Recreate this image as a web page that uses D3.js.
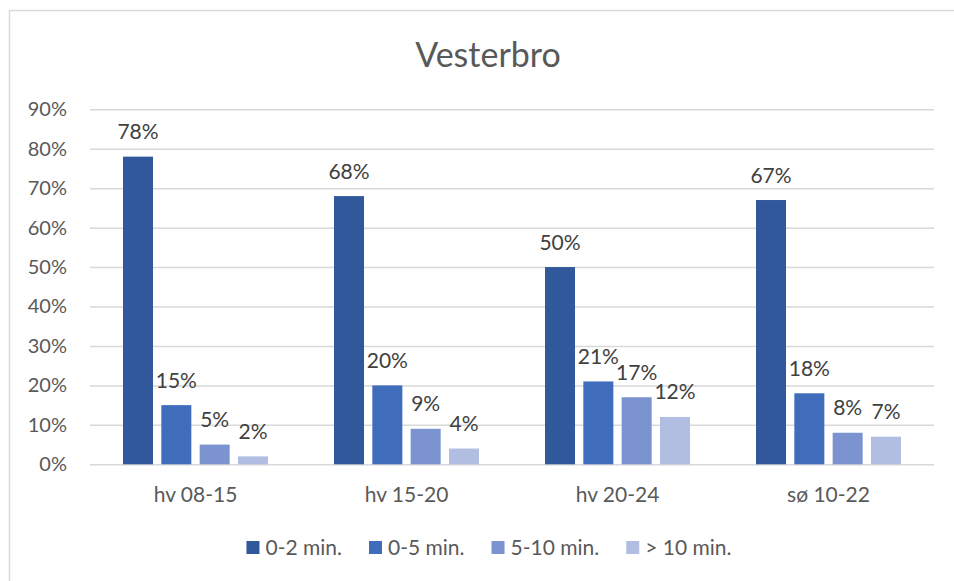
<!DOCTYPE html>
<html>
<head>
<meta charset="utf-8">
<script src="https://cdn.jsdelivr.net/npm/d3@7"></script>
<style>
  html, body { margin: 0; padding: 0; background: #fff; }
  svg { display: block; font-family: Lato, "Open Sans", sans-serif; }
</style>
</head>
<body>
<svg id="chart" width="954" height="581"></svg>
<script>
// Share of trips by response-time band, per time window
const categories = ["hv 08-15", "hv 15-20", "hv 20-24", "sø 10-22"];
const seriesNames = ["0-2 min.", "0-5 min.", "5-10 min.", "> 10 min."];
const s02 = [78, 68, 50, 67];
const s05 = [15, 20, 21, 18];
const s510 = [5, 9, 17, 8];
const s10 = [2, 4, 12, 7];
const yTicks = [0, 10, 20, 30, 40, 50, 60, 70, 80, 90];
const colors = ["#30589a", "#3f6cbb", "#7b93cf", "#b2bee1"];

const values = [s02, s05, s510, s10];

const svg = d3.select("#chart");
const plot = { left: 90, right: 934, top: 109.3, bottom: 464.3 };

// chart frame
svg.append("rect")
  .attr("x", 9.5).attr("y", 10.5)
  .attr("width", 970).attr("height", 600)
  .attr("fill", "#fff").attr("stroke", "#d9d9d9").attr("stroke-width", 1.5);

// title
svg.append("text")
  .attr("x", 488).attr("y", 67)
  .attr("text-anchor", "middle")
  .attr("fill", "#595959")
  .style("font-size", "34px")
  .text("Vesterbro");

const y = d3.scaleLinear().domain([0, 90]).range([plot.bottom, plot.top]);
const x0 = d3.scaleBand().domain(categories).range([plot.left, plot.right]).padding(0);
const x1 = d3.scaleBand().domain(seriesNames)
  .range([33, x0.bandwidth() - 33]).paddingInner(0.217).paddingOuter(0);

// gridlines and value axis labels
const yAxis = d3.axisLeft(y).tickValues(yTicks)
  .tickSize(-(plot.right - plot.left)).tickPadding(23)
  .tickFormat(d => d + "%");
const gy = svg.append("g").attr("transform", `translate(${plot.left},0)`).call(yAxis);
gy.select(".domain").remove();
gy.selectAll(".tick line").attr("stroke", "#d9d9d9").attr("stroke-width", 1.5);
gy.selectAll(".tick text")
  .attr("fill", "#595959")
  .style("font-size", "20px")
  .style("font-family", "Lato, 'Open Sans', sans-serif");

// category axis labels
const xAxis = d3.axisBottom(x0).tickSize(0).tickPadding(0);
const gx = svg.append("g").attr("transform", `translate(0,${plot.bottom})`).call(xAxis);
gx.select(".domain").remove();
gx.selectAll(".tick text")
  .attr("dy", null).attr("y", 38)
  .attr("fill", "#595959")
  .style("font-size", "21px")
  .style("font-family", "Lato, 'Open Sans', sans-serif");

// bars and value labels
const rows = categories.map((c, i) => ({
  cat: c,
  items: seriesNames.map((s, k) => ({ s, k, v: values[k][i] }))
}));

const groups = svg.append("g").selectAll("g").data(rows).join("g")
  .attr("transform", d => `translate(${x0(d.cat)},0)`);

groups.selectAll("rect").data(d => d.items).join("rect")
  .attr("x", d => x1(d.s))
  .attr("y", d => y(d.v))
  .attr("width", x1.bandwidth())
  .attr("height", d => y(0) - y(d.v))
  .attr("fill", d => colors[d.k]);

groups.selectAll("text.val").data(d => d.items).join("text")
  .attr("class", "val")
  .attr("x", d => x1(d.s) + x1.bandwidth() / 2)
  .attr("y", d => y(d.v) - 17.5)
  .attr("text-anchor", "middle")
  .attr("fill", "#404040")
  .style("font-size", "21px")
  .text(d => d.v + "%");

// legend
const legend = svg.append("g");
const items = legend.selectAll("g").data(seriesNames).join("g");
items.append("rect")
  .attr("y", 541).attr("width", 13).attr("height", 13)
  .attr("fill", (d, i) => colors[i]);
items.append("text")
  .attr("x", 19).attr("y", 555)
  .attr("fill", "#595959")
  .style("font-size", "21px")
  .text(d => d);
let cx = 0;
const offsets = [];
items.each(function () {
  offsets.push(cx);
  const w = d3.select(this).select("text").node().getComputedTextLength();
  cx += 19 + w + 27;
});
const total = cx - 27;
const start = 489 - total / 2;
items.attr("transform", (d, i) => `translate(${start + offsets[i]},0)`);
</script>
</body>
</html>
